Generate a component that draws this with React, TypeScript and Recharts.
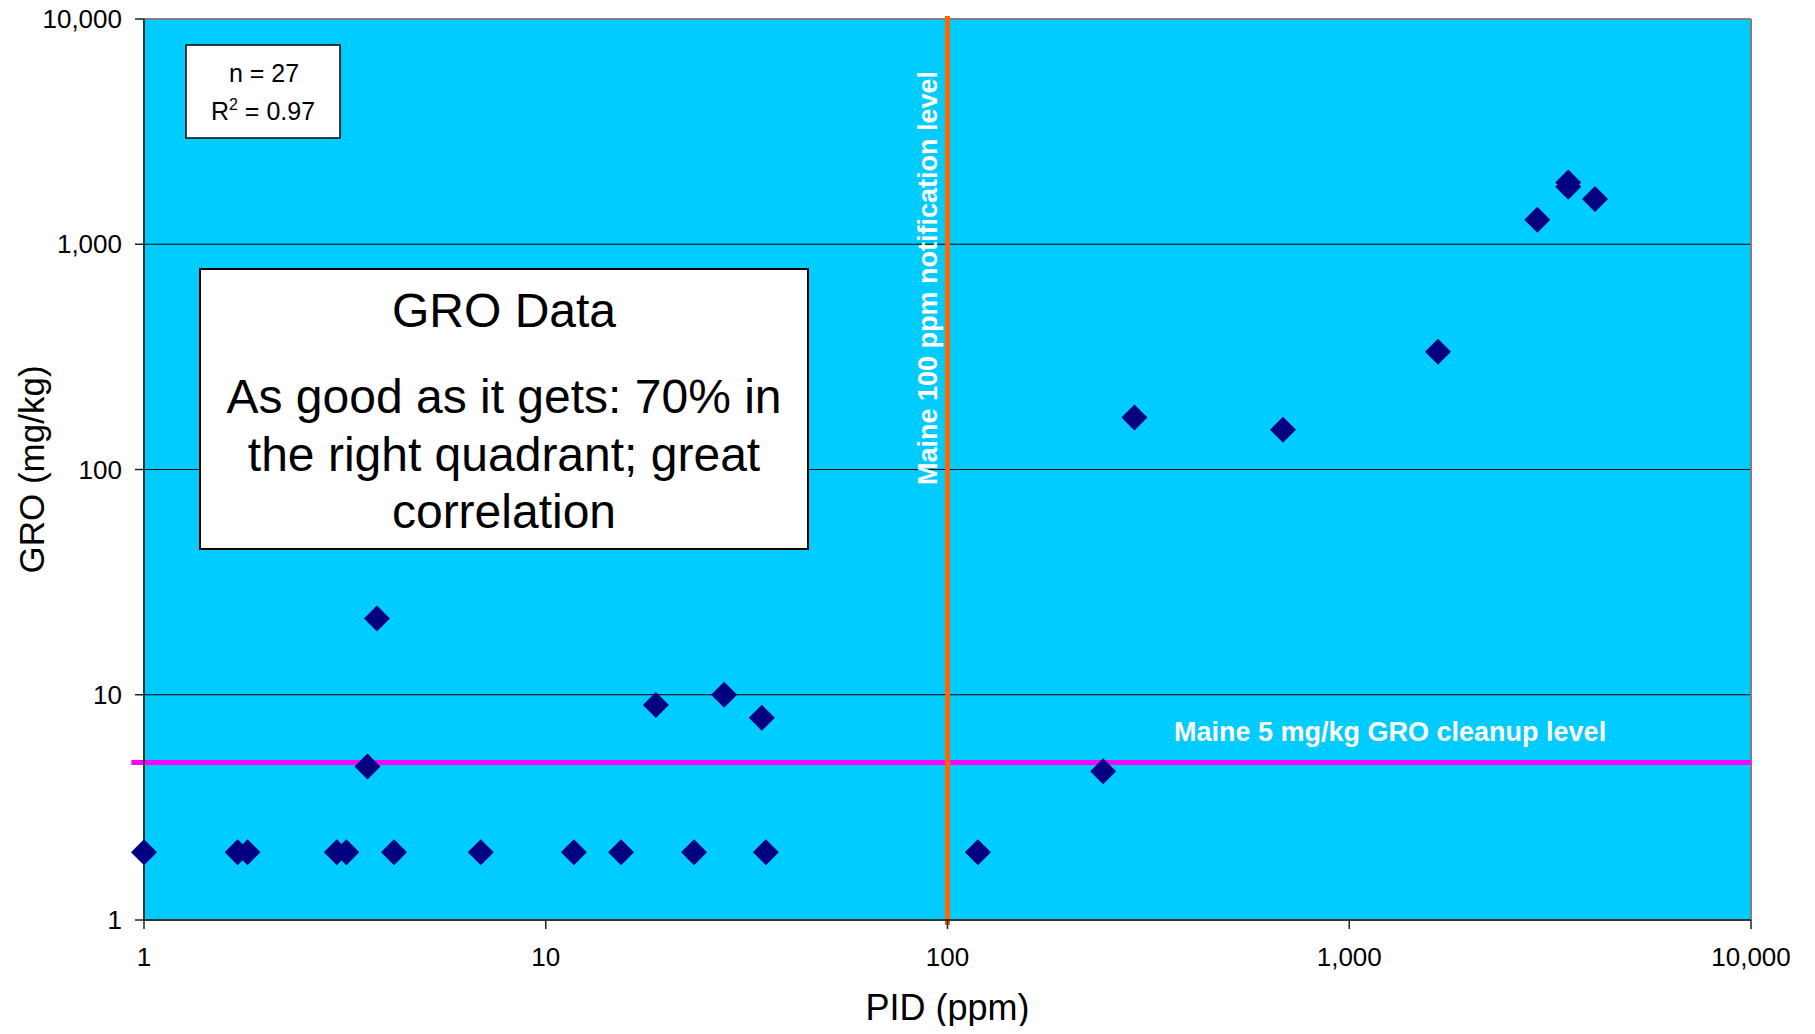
import React from "react";
import {
  ScatterChart,
  Scatter,
  XAxis,
  YAxis,
  CartesianGrid,
  ReferenceLine,
} from "recharts";

// PID readings (ppm) and matching GRO lab results (mg/kg)
const pidValues = [
  1, 1.71, 1.81, 3.02, 3.19, 4.19, 6.89, 11.75, 15.4, 23.4, 35.3, 119, 3.8,
  3.6, 18.8, 27.8, 34.5, 244, 292, 684, 1663, 2938, 3508, 3508, 4090,
];
const groValues = [
  2, 2, 2, 2, 2, 2, 2, 2, 2, 2, 2, 2, 21.8, 4.8, 9.0, 10.0, 7.9, 4.57, 170,
  150, 333, 1285, 1880, 1800, 1590,
];

const pidTicks = [1, 10, 100, 1000, 10000];
const groTicks = [1, 10, 100, 1000, 10000];

const pidLimit = 100;
const groLimit = 5;

const data = pidValues.map((pid, i) => ({ pid, gro: groValues[i] }));

const FONT = "'Liberation Sans', Arial, sans-serif";

const fmt = (v: number) => v.toLocaleString("en-US");

const Diamond = (props: any) => {
  const { cx, cy } = props;
  const r = 13;
  return (
    <polygon
      points={`${cx},${cy - r} ${cx + r},${cy} ${cx},${cy + r} ${cx - r},${cy}`}
      fill="#000080"
    />
  );
};

const App = () => {
  // cancel the body margin so chart coords match the page
  return (
    <div
      style={{
        position: "relative",
        width: 1815,
        height: 1034,
        margin: "-8px 0 -8px -8px",
      }}
    >
      <ScatterChart
        width={1815}
        height={1034}
        margin={{ top: 19, right: 64, bottom: 0, left: 0 }}
      >
        <CartesianGrid
          vertical={false}
          stroke="#000"
          strokeWidth={1}
          fill="#00CCFF"
          fillOpacity={1}
        />
        <XAxis
          type="number"
          dataKey="pid"
          scale="log"
          domain={[1, 10000]}
          ticks={pidTicks}
          interval={0}
          tickFormatter={fmt}
          height={114}
          tickSize={9}
          tickMargin={19}
          axisLine={{ stroke: "#333", strokeWidth: 2 }}
          tickLine={{ stroke: "#222", strokeWidth: 1.5 }}
          tick={{ fill: "#000", fontSize: 26, fontFamily: FONT }}
          label={{
            value: "PID (ppm)",
            position: "insideBottom",
            offset: 14,
            fill: "#000",
            fontSize: 36,
            fontFamily: FONT,
          }}
        />
        <YAxis
          type="number"
          dataKey="gro"
          scale="log"
          domain={[1, 10000]}
          ticks={groTicks}
          interval={0}
          tickFormatter={fmt}
          width={144}
          tickSize={9}
          tickMargin={13}
          axisLine={{ stroke: "#333", strokeWidth: 2 }}
          tickLine={{ stroke: "#222", strokeWidth: 1.5 }}
          tick={{ fill: "#000", fontSize: 26, fontFamily: FONT }}
          label={{
            value: "GRO (mg/kg)",
            angle: -90,
            position: "insideLeft",
            offset: 32,
            fill: "#000",
            fontSize: 35,
            fontFamily: FONT,
            style: { textAnchor: "middle" },
          }}
        />
        <ReferenceLine y={10000} stroke="#808080" strokeWidth={2} />
        <ReferenceLine x={10000} stroke="#808080" strokeWidth={2} />
        <ReferenceLine
          segment={[
            { x: 0.93, y: groLimit },
            { x: 10000, y: groLimit },
          ]}
          stroke="#FF00FF"
          strokeWidth={5}
          ifOverflow="visible"
        />
        <ReferenceLine
          segment={[
            { x: pidLimit, y: 0.95 },
            { x: pidLimit, y: 10300 },
          ]}
          stroke="#FF6600"
          strokeWidth={5}
          ifOverflow="visible"
        />
        <Scatter data={data} shape={Diamond} isAnimationActive={false} />
      </ScatterChart>

      {/* annotation boxes and line labels */}
      <svg
        width={1815}
        height={1034}
        style={{ position: "absolute", left: 0, top: 0, pointerEvents: "none" }}
        fontFamily={FONT}
      >
        <rect x={186} y={45} width={154} height={93} fill="#fff" stroke="#000" strokeWidth={1.5} />
        <text x={264} y={82} textAnchor="middle" fontSize={25} fill="#000">
          n = 27
        </text>
        <text x={263} y={120} textAnchor="middle" fontSize={25} fill="#000">
          <tspan>R</tspan>
          <tspan fontSize={16} dy={-10}>2</tspan>
          <tspan dy={10}> = 0.97</tspan>
        </text>

        <rect x={200} y={269} width={608} height={280} fill="#fff" stroke="#000" strokeWidth={2} />
        <text textAnchor="middle" fontSize={48} fill="#000">
          <tspan x={504} y={327}>GRO Data</tspan>
          <tspan x={504} y={413}>As good as it gets: 70% in</tspan>
          <tspan x={504} y={471}>the right quadrant; great</tspan>
          <tspan x={504} y={528}>correlation</tspan>
        </text>

        <text x={1174} y={741} fontSize={27} fontWeight="bold" fill="#fff">
          Maine 5 mg/kg GRO cleanup level
        </text>
        <text
          x={937}
          y={278}
          fontSize={27}
          fontWeight="bold"
          fill="#fff"
          textAnchor="middle"
          transform="rotate(-90, 937, 278)"
        >
          Maine 100 ppm notification level
        </text>
      </svg>
    </div>
  );
};

export default App;
